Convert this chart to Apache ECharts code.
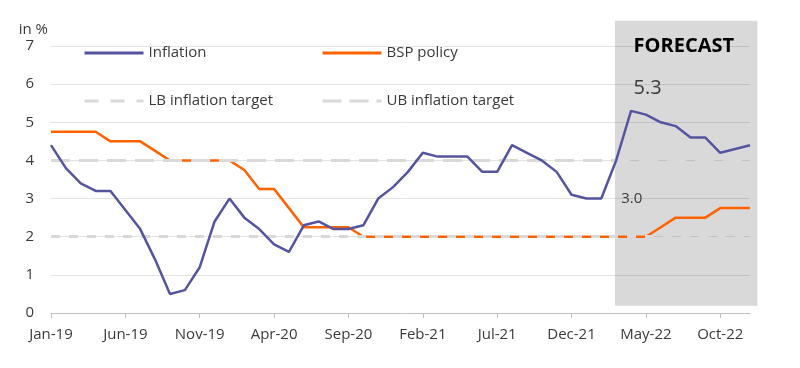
<!DOCTYPE html>
<html><head><meta charset="utf-8">
<script src="https://cdn.jsdelivr.net/npm/echarts@6/dist/echarts.min.js"></script>
<style>html,body{margin:0;padding:0;background:#fff}#c{width:800px;height:368px}</style>
</head><body><div id="c"></div>
<script>
const months = ['Jan-19','Feb-19','Mar-19','Apr-19','May-19','Jun-19','Jul-19','Aug-19','Sep-19','Oct-19','Nov-19','Dec-19',
  'Jan-20','Feb-20','Mar-20','Apr-20','May-20','Jun-20','Jul-20','Aug-20','Sep-20','Oct-20','Nov-20','Dec-20',
  'Jan-21','Feb-21','Mar-21','Apr-21','May-21','Jun-21','Jul-21','Aug-21','Sep-21','Oct-21','Nov-21','Dec-21',
  'Jan-22','Feb-22','Mar-22','Apr-22','May-22','Jun-22','Jul-22','Aug-22','Sep-22','Oct-22','Nov-22','Dec-22'];
const inflation = [4.4,3.8,3.4,3.2,3.2,2.7,2.2,1.4,0.5,0.6,1.2,2.4,
  3.0,2.5,2.2,1.8,1.6,2.3,2.4,2.2,2.2,2.3,3.0,3.3,
  3.7,4.2,4.1,4.1,4.1,3.7,3.7,4.4,4.2,4.0,3.7,3.1,
  3.0,3.0,4.0,5.3,5.2,5.0,4.9,4.6,4.6,4.2,4.3,4.4];
const bspPolicy = [4.75,4.75,4.75,4.75,4.5,4.5,4.5,4.25,4.0,4.0,4.0,4.0,
  4.0,3.75,3.25,3.25,2.75,2.25,2.25,2.25,2.25,2.0,2.0,2.0,
  2.0,2.0,2.0,2.0,2.0,2.0,2.0,2.0,2.0,2.0,2.0,2.0,
  2.0,2.0,2.0,2.0,2.0,2.25,2.5,2.5,2.5,2.75,2.75,2.75];
const lbTarget = 2;
const ubTarget = 4;
const yTicks = [0,1,2,3,4,5,6,7];
const forecastStart = 37.92;   // month index where forecast shading begins
const forecastEnd = 47.5;
const annotPeak = {label:'5.3', x:39, y:5.3};
const annotRate = {label:'3.0', x:39, y:3.0};

const FONT = 'Open Sans';
const TXT = '#3a3a3a';
const chart = echarts.init(document.getElementById('c'), null, {renderer:'canvas'});
const legendBase = {orient:'horizontal', padding:0, itemWidth:59, itemHeight:14, itemGap:0,
  itemStyle:{opacity:0},
  textStyle:{fontFamily:FONT, fontSize:15, color:TXT, lineHeight:20}, selectedMode:false};
chart.setOption({
  animation:false,
  grid:{left:51, right:50, top:46, bottom:55, containLabel:false},
  legend:[
    Object.assign({}, legendBase, {left:83, top:43, data:['Inflation'], lineStyle:{width:3}}),
    Object.assign({}, legendBase, {left:321, top:43, data:['BSP policy'], lineStyle:{width:3}}),
    Object.assign({}, legendBase, {left:83, top:91, data:['LB inflation target'], lineStyle:{type:[14,12], width:3}}),
    Object.assign({}, legendBase, {left:321, top:91, data:['UB inflation target'], lineStyle:{type:[19,8], width:3}})
  ],
  xAxis:[{
    type:'category', data:months, boundaryGap:false,
    axisLine:{lineStyle:{color:'#bfbfbf', width:1}},
    axisTick:{interval:4, length:5, lineStyle:{color:'#bfbfbf'}},
    axisLabel:{interval:4, margin:14, fontFamily:FONT, fontSize:15, color:TXT},
    splitLine:{show:false}
  },{
    type:'value', min:0, max:months.length-1, show:false
  }],
  yAxis:{
    type:'value', min:yTicks[0], max:yTicks[yTicks.length-1], interval:1,
    name:'in %', nameLocation:'end', nameGap:9,
    nameTextStyle:{fontFamily:FONT, fontSize:15, color:TXT, align:'right', padding:[0,3,0,0]},
    axisLine:{show:false}, axisTick:{show:false},
    axisLabel:{margin:17, fontFamily:FONT, fontSize:15, color:TXT},
    splitLine:{lineStyle:{color:'#e3e3e3', width:1}}
  },
  series:[
    {name:'BSP policy', type:'line', data:bspPolicy, symbol:'none', z:3,
     lineStyle:{color:'#ff6200', width:2.5}, itemStyle:{color:'#ff6200'}},
    {name:'LB inflation target', type:'line', data:[], symbol:'none', z:4,
     lineStyle:{color:'#d9d9d9', width:3, type:[9,9]}, itemStyle:{color:'#d9d9d9'},
     markLine:{silent:true, symbol:'none', label:{show:false},
       lineStyle:{color:'#d9d9d9', width:3, type:[9,9]}, data:[{yAxis:lbTarget}]}},
    {name:'UB inflation target', type:'line', data:[], symbol:'none', z:4,
     lineStyle:{color:'#d9d9d9', width:3, type:[19,9]}, itemStyle:{color:'#d9d9d9'},
     markLine:{silent:true, symbol:'none', label:{show:false},
       lineStyle:{color:'#d9d9d9', width:3, type:[19,9]}, data:[{yAxis:ubTarget}]}},
    {name:'Inflation', type:'line', data:inflation, symbol:'none', z:5,
     lineStyle:{color:'#55559f', width:2.5}, itemStyle:{color:'#55559f'}}
  ]
});

function px(x, y){ return chart.convertToPixel({xAxisIndex:1, yAxisIndex:0}, [x, y]); }
const p0 = px(forecastStart, 7.66), p1 = px(forecastEnd, 0.19);
const fc = px(42.55, 7.0);
const a1 = px(annotPeak.x, annotPeak.y), a2 = px(annotRate.x, annotRate.y);
chart.setOption({
  graphic:[
    {type:'rect', z:1, silent:true, shape:{x:p0[0], y:p0[1], width:p1[0]-p0[0], height:p1[1]-p0[1]},
     style:{fill:'rgba(0,0,0,0.15)'}},
    {type:'text', z:10, x:fc[0], y:fc[1], style:{text:'FORECAST', fontFamily:FONT, fontWeight:'bold', fontSize:20,
      fill:'#000', align:'center', verticalAlign:'middle'}},
    {type:'text', z:10, x:a1[0]+16.5, y:a1[1]-23, style:{text:annotPeak.label, fontFamily:FONT, fontSize:20,
      fill:TXT, align:'center', verticalAlign:'middle'}},
    {type:'text', z:10, x:a2[0]+0.7, y:a2[1], style:{text:annotRate.label, fontFamily:FONT, fontSize:15,
      fill:TXT, align:'center', verticalAlign:'middle'}}
  ]
});
</script></body></html>
